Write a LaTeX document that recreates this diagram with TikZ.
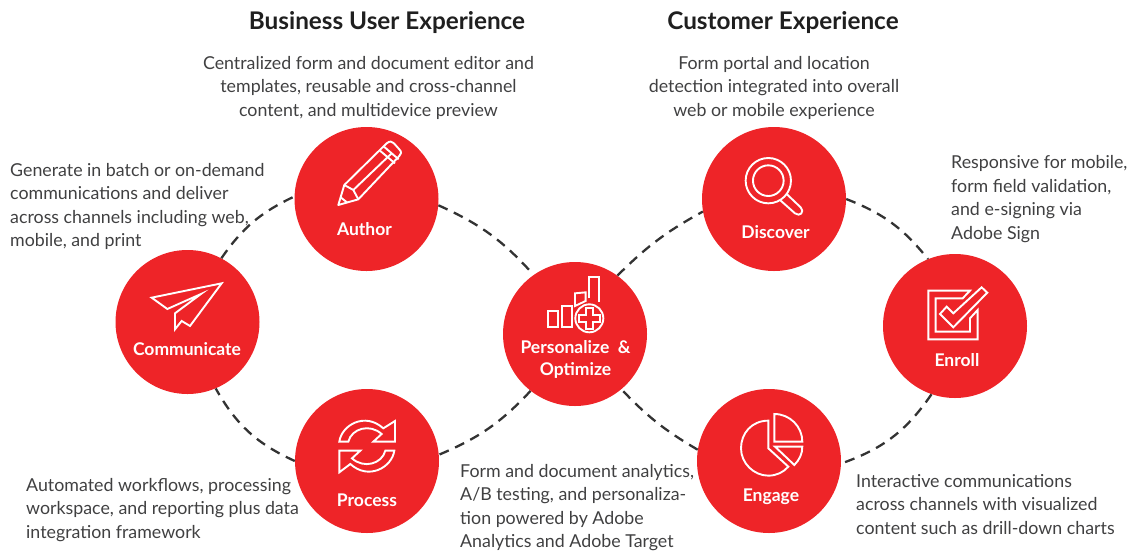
\documentclass[tikz,border=0pt]{standalone}
\usepackage{fontspec}
\setmainfont{Lato}
\definecolor{adobered}{HTML}{EE2428}
\definecolor{bodygrey}{HTML}{404041}
\definecolor{dashgrey}{HTML}{333333}
\tikzset{
  disc/.style={circle,fill=adobered,draw=none,minimum size=144pt,inner sep=0pt},
  lab/.style={text=white,font=\fontsize{17.5}{22}\selectfont\bfseries,align=center,inner sep=0pt},
  head/.style={text=black!88,font=\fontsize{24.3}{28}\selectfont\bfseries,inner sep=0pt},
  bodyc/.style={text=bodygrey,font=\fontsize{17.8}{23.5}\selectfont,align=center,inner sep=0pt,anchor=north},
  bodyl/.style={text=bodygrey,font=\fontsize{17.8}{23.5}\selectfont,align=left,inner sep=0pt,anchor=north west},
  link/.style={draw=dashgrey,line width=2.3pt,dash pattern=on 10pt off 7pt},
  icon/.style={draw=white,line width=1.9pt,line join=miter,fill=none},
  zoomA/.style={xshift=100pt,yshift=-120pt,x=0.3333pt,y=-0.3333pt},
  zoomB/.style={xshift=490pt,yshift=-120pt,x=0.3333pt,y=-0.3333pt},
  zoomC/.style={xshift=680pt,yshift=-250pt,x=0.3333pt,y=-0.3333pt},
  zoomD/.style={xshift=200pt,yshift=-360pt,x=0.3333pt,y=-0.3333pt},
}
\begin{document}
\begin{tikzpicture}[x=1pt,y=-1pt]
\useasboundingbox (0,0) rectangle (1130,550);
% discs
\node[disc] (author) at (366.5,199) {};
\node[disc] (comm) at (187.5,322) {};
\node[disc] (pers) at (575,334) {};
\node[disc] (disco) at (774,199) {};
\node[disc] (enroll) at (955,326) {};
\node[disc] (engage) at (769,461) {};
\node[disc] (process) at (367,461) {};
% connectors
\draw[link] (comm.62) to[bend left=15] (author.178);
\draw[link] (author.-5) to[bend left=12] (pers.125);
\draw[link] (pers.54) to[bend left=8] (disco.190);
\draw[link] (disco.0) to[bend left=15] (enroll.112);
\draw[link] (enroll.251) to[bend left=18] (engage.-2);
\draw[link] (engage.171) to[bend left=8] (pers.-50);
\draw[link] (pers.232) to[bend left=12] (process.5);
\draw[link] (process.180) to[bend left=18] (comm.-67);
% headings
\node[head] (h1) at (387,23) {Business User Experience};
\node[head] (h2) at (783,23) {Customer Experience};
% body text
\node[bodyc] (t1) at (368.5,56) {Centralized form and document editor and\\templates, reusable and cross-channel\\content, and multidevice preview};
\node[bodyc] (t2) at (774,56) {Form portal and location\\detection integrated into overall\\web or mobile experience};
\node[bodyl] (t3) at (10,163) {Generate in batch or on-demand\\communications and deliver\\across channels including web,\\mobile, and print};
\node[bodyl] (t4) at (951,155.5) {Responsive for mobile,\\form field validation,\\and e-signing via\\Adobe Sign};
\node[bodyl] (t5) at (26,478) {Automated workflows, processing\\workspace, and reporting plus data\\integration framework};
\node[bodyl] (t6) at (460,464) {Form and document analytics,\\A/B testing, and personaliza-\\tion powered by Adobe\\Analytics and Adobe Target};
\node[bodyl] (t7) at (856,474) {Interactive communications\\across channels with visualized\\content such as drill-down charts};
% labels
\node[lab] (l1) at (364.5,229) {Author};
\node[lab] (l2) at (187,349) {Communicate};
\node[lab] (l3) at (575.5,359.5) {Personalize\ \ \&\\Optimize};
\node[lab] (l4) at (775.5,232) {Discover};
\node[lab] (l5) at (957,360) {Enroll};
\node[lab] (l6) at (367,500) {Process};
\node[lab] (l7) at (771,496.5) {Engage};
% pencil
\begin{scope}[zoomA]
\draw[icon,line join=round] (715,255) -- (733,195) -- (860,70) .. controls (870,62) and (876,64) .. (882,70) -- (898,88) .. controls (906,96) and (904,102) .. (898,108) -- (775,238) -- cycle;
\draw[icon] (733,195) -- (760,210) -- (775,238);
\draw[icon] (760,210) -- (875,100);
\draw[icon] (840,92) -- (885,130);
\draw[icon] (852,80) -- (896,118);
\draw[icon] (722,232) -- (742,248);
% paper plane
\draw[icon] (155,533) -- (365,490) -- (270,618) -- (245,603) -- (225,628) -- (225,580) -- (303,522) -- (202,567) -- cycle;
\end{scope}
% magnifier and chart
\begin{scope}[zoomB]
\draw[icon] (835,182) circle (68);
\draw[icon] (835,182) circle (46);
\draw[icon,line join=round] (890,222) -- (932,262) .. controls (945,275) and (930,292) .. (915,280) -- (870,240);
\draw[icon] (173,573) rectangle (205,622);
\draw[icon] (215,558) rectangle (245,622);
\draw[icon] (255,520) -- (287,517) -- (287,543) -- (255,558) -- cycle;
\draw[icon] (297,535) -- (297,472) -- (327,472) -- (327,545);
\draw[icon] (298,595) circle (42);
\draw[icon] (288,565) -- (310,565) -- (310,585) -- (330,585) -- (330,607) -- (310,607) -- (310,627) -- (288,627) -- (288,607) -- (268,607) -- (268,585) -- (288,585) -- cycle;
\end{scope}
% checkbox and pie
\begin{scope}[zoomC]
\draw[icon] (893,180) -- (893,268) -- (745,268) -- (745,122) -- (870,122) -- (848,145) -- (767,145) -- (767,245) -- (870,245) -- (870,205) -- cycle;
\draw[icon] (780,192) -- (800,170) -- (820,190) -- (905,112) -- (922,128) -- (820,232) -- cycle;
\draw[icon] (265,512) .. controls (215,512) and (183,550) .. (183,595) .. controls (183,640) and (222,677) .. (265,677) .. controls (290,677) and (310,667) .. (325,650) -- (265,595) -- cycle;
\draw[icon] (283,492) .. controls (330,492) and (367,530) .. (367,575) -- (283,575) -- cycle;
\draw[icon] (285,590) -- (367,590) .. controls (367,612) and (358,630) .. (343,645) -- cycle;
\end{scope}
% cycle arrows
\begin{scope}[zoomD]
\draw[icon] (418,245) .. controls (425,195) and (495,155) .. (550,205) -- (585,183) -- (585,245) -- (520,245) -- (545,222) .. controls (510,190) and (455,205) .. (445,245) -- cycle;
\draw[icon] (583,272) .. controls (576,322) and (506,362) .. (451,312) -- (418,337) -- (418,272) -- (481,272) -- (456,295) .. controls (491,327) and (546,312) .. (556,272) -- cycle;
\end{scope}
\end{tikzpicture}
\end{document}
